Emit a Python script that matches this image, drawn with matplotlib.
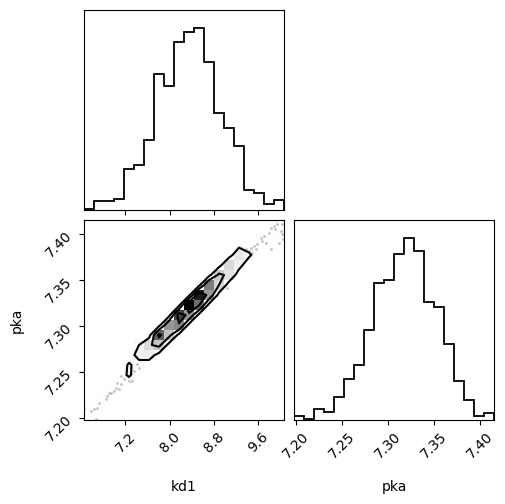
import numpy as np
import matplotlib
matplotlib.use("Agg")
import matplotlib.pyplot as plt
from matplotlib.colors import LinearSegmentedColormap

# plages des paramètres (min / max des échantillons)
kd1_range = (6.449, 10.073)
pka_range = (7.1978, 7.4152)

# histogrammes 1D (20 bins), hauteurs
kd1_counts = [1, 6, 6, 8, 29, 32, 49, 96, 87, 118, 125, 128, 104, 68, 58, 45, 14, 12, 4, 7]
pka_counts = [3, 1, 8, 6, 16, 29, 39, 64, 97, 99, 118, 129, 120, 84, 80, 54, 28, 14, 3, 5]

# histogramme 2D : une ligne par bin de pka (bas -> haut), une colonne par bin de kd1
density_counts = [
    [1, 2, 0, 0, 0, 0, 0, 0, 0, 0, 0, 0, 0, 0, 0, 0, 0, 0, 0, 0],
    [0, 2, 0, 0, 0, 0, 0, 0, 0, 0, 0, 0, 0, 0, 0, 0, 0, 0, 0, 0],
    [0, 2, 3, 0, 0, 0, 0, 0, 0, 0, 0, 0, 0, 0, 0, 0, 0, 0, 0, 0],
    [0, 0, 3, 4, 2, 0, 0, 0, 0, 0, 0, 0, 0, 0, 0, 0, 0, 0, 0, 0],
    [0, 0, 0, 4, 12, 2, 0, 0, 0, 0, 0, 0, 0, 0, 0, 0, 0, 0, 0, 0],
    [0, 0, 0, 0, 12, 4, 2, 0, 0, 0, 0, 0, 0, 0, 0, 0, 0, 0, 0, 0],
    [0, 0, 0, 0, 3, 16, 18, 4, 0, 0, 0, 0, 0, 0, 0, 0, 0, 0, 0, 0],
    [0, 0, 0, 0, 0, 10, 26, 33, 4, 0, 0, 0, 0, 0, 0, 0, 0, 0, 0, 0],
    [0, 0, 0, 0, 0, 0, 3, 55, 34, 5, 0, 0, 0, 0, 0, 0, 0, 0, 0, 0],
    [0, 0, 0, 0, 0, 0, 0, 4, 45, 48, 5, 0, 0, 0, 0, 0, 0, 0, 0, 0],
    [0, 0, 0, 0, 0, 0, 0, 0, 4, 60, 45, 5, 0, 0, 0, 0, 0, 0, 0, 0],
    [0, 0, 0, 0, 0, 0, 0, 0, 0, 5, 70, 52, 5, 0, 0, 0, 0, 0, 0, 0],
    [0, 0, 0, 0, 0, 0, 0, 0, 0, 0, 5, 66, 44, 4, 0, 0, 0, 0, 0, 0],
    [0, 0, 0, 0, 0, 0, 0, 0, 0, 0, 0, 5, 50, 28, 3, 0, 0, 0, 0, 0],
    [0, 0, 0, 0, 0, 0, 0, 0, 0, 0, 0, 0, 5, 32, 24, 2, 0, 0, 0, 0],
    [0, 0, 0, 0, 0, 0, 0, 0, 0, 0, 0, 0, 0, 4, 27, 16, 0, 0, 0, 0],
    [0, 0, 0, 0, 0, 0, 0, 0, 0, 0, 0, 0, 0, 0, 4, 21, 13, 0, 0, 0],
    [0, 0, 0, 0, 0, 0, 0, 0, 0, 0, 0, 0, 0, 0, 0, 6, 1, 6, 0, 0],
    [0, 0, 0, 0, 0, 0, 0, 0, 0, 0, 0, 0, 0, 0, 0, 0, 0, 6, 2, 3],
    [0, 0, 0, 0, 0, 0, 0, 0, 0, 0, 0, 0, 0, 0, 0, 0, 0, 0, 2, 4],
]

# échantillons visibles hors du dernier contour
kd1_points = [9.891, 9.951, 10.041, 9.842, 9.904, 10.012, 9.800, 9.710, 9.650, 9.679,
              9.740, 9.588, 9.529, 9.469, 9.438, 9.498, 9.378, 9.317, 9.407, 9.559,
              9.831, 9.981, 10.054, 10.041, 9.045,
              7.233, 7.295, 7.355, 7.264, 7.324, 7.174, 7.114, 7.052, 7.023, 7.083,
              6.992, 6.933, 6.902, 6.871, 6.842, 6.721, 6.690, 6.630, 6.570, 6.661,
              7.114, 7.415, 7.445, 6.449]
pka_points = [7.4087, 7.4105, 7.4105, 7.4068, 7.4051, 7.4032, 7.4014, 7.3978, 7.3960, 7.3924,
              7.3905, 7.3888, 7.3869, 7.3851, 7.3815, 7.3797, 7.3833, 7.3851, 7.3779, 7.3833,
              7.3833, 7.3905, 7.3942, 7.3997, 7.3416,
              7.2529, 7.2475, 7.2511, 7.2402, 7.2402, 7.2420, 7.2366, 7.2383, 7.2329, 7.2312,
              7.2293, 7.2275, 7.2275, 7.2239, 7.2203, 7.2166, 7.2112, 7.2094, 7.2076, 7.1986,
              7.2456, 7.2583, 7.2547, 7.2105]

kd1_ticks = [7.2, 8.0, 8.8, 9.6]
pka_ticks = [7.20, 7.25, 7.30, 7.35, 7.40]

# niveaux de contour (0.5, 1, 1.5, 2 sigma)
levels = 1.0 - np.exp(-0.5 * np.arange(0.5, 2.1, 0.5) ** 2)


def plot_hist1d(ax, counts, rng):
    edges = np.linspace(rng[0], rng[1], len(counts) + 1)
    ax.stairs(counts, edges, color="k", linewidth=1.3)
    ax.set_xlim(rng)
    ax.set_ylim(0, 1.1 * max(counts))
    ax.set_yticks([])


def plot_hist2d(ax, H, xr, yr, xs, ys):
    H = np.array(H, dtype=float).T  # H[x, y]
    X = np.linspace(xr[0], xr[1], H.shape[0] + 1)
    Y = np.linspace(yr[0], yr[1], H.shape[1] + 1)

    # seuils de densité
    Hflat = np.sort(H.flatten())[::-1]
    sm = np.cumsum(Hflat)
    sm /= sm[-1]
    V = np.empty(len(levels))
    for i, v0 in enumerate(levels):
        try:
            V[i] = Hflat[sm <= v0][-1]
        except IndexError:
            V[i] = Hflat[0]
    V.sort()

    X1 = 0.5 * (X[1:] + X[:-1])
    Y1 = 0.5 * (Y[1:] + Y[:-1])
    H2 = H.min() + np.zeros((H.shape[0] + 4, H.shape[1] + 4))
    H2[2:-2, 2:-2] = H
    H2[2:-2, 1] = H[:, 0]
    H2[2:-2, -2] = H[:, -1]
    H2[1, 2:-2] = H[0]
    H2[-2, 2:-2] = H[-1]
    H2[1, 1] = H[0, 0]
    H2[1, -2] = H[0, -1]
    H2[-2, 1] = H[-1, 0]
    H2[-2, -2] = H[-1, -1]
    X2 = np.concatenate([X1[0] + np.array([-2, -1]) * np.diff(X1[:2]), X1,
                         X1[-1] + np.array([1, 2]) * np.diff(X1[-2:])])
    Y2 = np.concatenate([Y1[0] + np.array([-2, -1]) * np.diff(Y1[:2]), Y1,
                         Y1[-1] + np.array([1, 2]) * np.diff(Y1[-2:])])

    white_cmap = LinearSegmentedColormap.from_list("white_cmap", [(1, 1, 1), (1, 1, 1)], N=2)
    density_cmap = LinearSegmentedColormap.from_list("density_cmap", ["k", (1, 1, 1, 0)])

    ax.plot(xs, ys, "o", zorder=-1, color="k", ms=2.0, mec="none", alpha=0.25)
    ax.contourf(X2, Y2, H2.T, [V.min(), H.max()], cmap=white_cmap, antialiased=False)
    ax.pcolor(X, Y, H.max() - H.T, cmap=density_cmap)
    ax.contour(X2, Y2, H2.T, V, colors="k", linewidths=1.5)
    ax.set_xlim(xr)
    ax.set_ylim(yr)


W, Hpx = 506, 504
fig = plt.figure(figsize=(W / 100, Hpx / 100), dpi=100)


def add_axes(x0, y0, x1, y1):
    return fig.add_axes([x0 / W, 1 - y1 / Hpx, (x1 - x0) / W, (y1 - y0) / Hpx])


ax_kd1 = add_axes(84, 10, 284, 210)
ax_2d = add_axes(84, 220, 284, 420)
ax_pka = add_axes(294, 220, 494, 420)

plot_hist1d(ax_kd1, kd1_counts, kd1_range)
ax_kd1.set_xticks(kd1_ticks)
ax_kd1.set_xticklabels([])

plot_hist2d(ax_2d, density_counts, kd1_range, pka_range, kd1_points, pka_points)
ax_2d.set_xticks(kd1_ticks)
ax_2d.set_yticks(pka_ticks)
[l.set_rotation(45) for l in ax_2d.get_xticklabels()]
[l.set_rotation(45) for l in ax_2d.get_yticklabels()]
ax_2d.set_xlabel("kd1")
ax_2d.set_ylabel("pka")
ax_2d.xaxis.set_label_coords(0.5, -0.3)
ax_2d.yaxis.set_label_coords(-0.3, 0.5)

plot_hist1d(ax_pka, pka_counts, pka_range)
ax_pka.set_xticks(pka_ticks)
[l.set_rotation(45) for l in ax_pka.get_xticklabels()]
ax_pka.set_xlabel("pka")
ax_pka.xaxis.set_label_coords(0.5, -0.3)

fig.savefig("out.png", dpi=100)
